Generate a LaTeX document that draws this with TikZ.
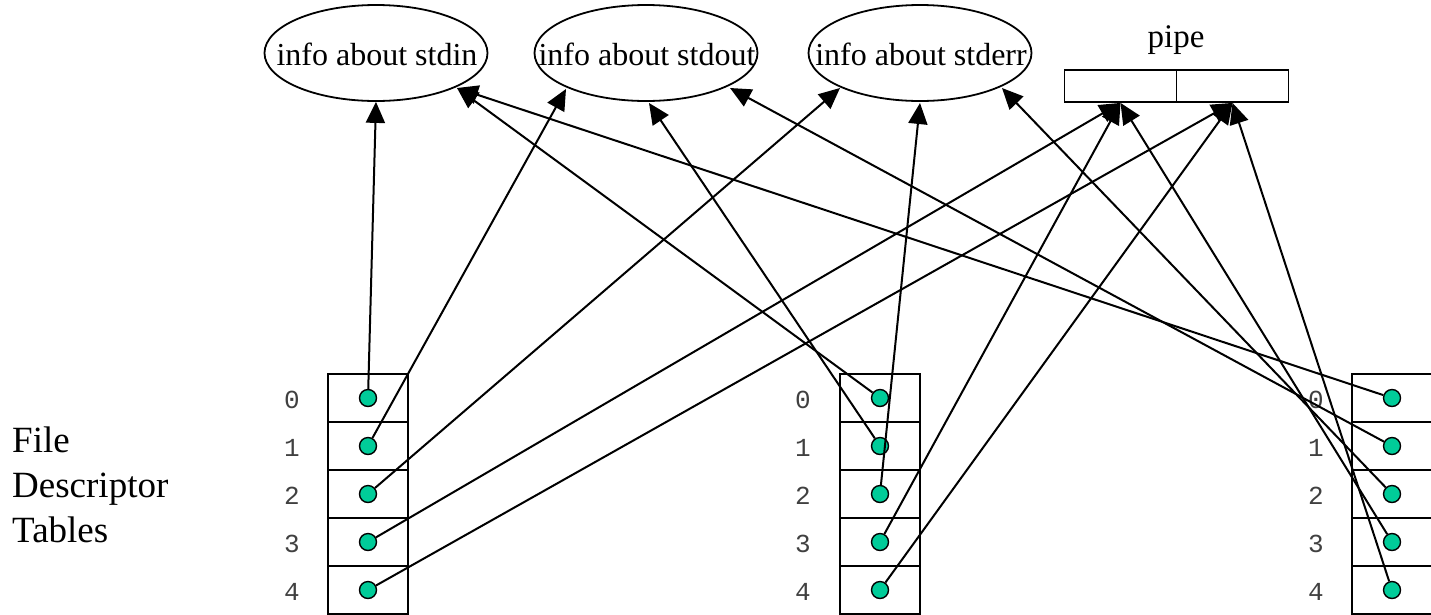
\documentclass[tikz,border=0pt]{standalone}
\usepackage{fontspec}
\setmainfont{Liberation Serif}
\setmonofont{Liberation Mono}
\usetikzlibrary{arrows.meta,shapes.geometric}
\definecolor{dotgreen}{RGB}{0,204,153}
\begin{document}
\begin{tikzpicture}[x=1pt,y=-1pt,
  info/.style={ellipse,draw,line width=1.8pt,minimum width=223pt,minimum height=96pt,inner sep=0pt},
  infotext/.style={anchor=base,inner sep=0pt,font=\fontsize{32}{38}\selectfont},
  cell/.style={draw,line width=1.8pt,minimum width=80pt,minimum height=48pt,inner sep=0pt},
  pipecell/.style={draw,line width=1.8pt,minimum width=112pt,minimum height=32pt,inner sep=0pt},
  fd/.style={circle,draw,line width=1.4pt,fill=dotgreen,minimum size=17pt,inner sep=0pt},
  idx/.style={inner sep=0pt,font=\ttfamily\fontsize{26}{30}\selectfont,text=black!75},
  side/.style={anchor=base west,inner sep=0pt,font=\fontsize{37}{45}\selectfont},
  link/.style={line width=2pt,-{Triangle[length=21pt,width=19pt]}}]
\useasboundingbox (0,0) rectangle (1431,614);
% info ellipses
\node[info] (stdin) at (376,53) {};
\node[infotext] (stdinT) at (377,65) {info about stdin};
\node[info] (stdout) at (646,53) {};
\node[infotext] (stdoutT) at (647,65) {info about stdout};
\node[info] (stderr) at (920,53) {};
\node[infotext] (stderrT) at (921,65) {info about stderr};
% pipe
\node[pipecell] (pipeL) at (1120.5,86) {};
\node[pipecell] (pipeR) at (1232.5,86) {};
\node[anchor=base,inner sep=0pt,font=\fontsize{33}{40}\selectfont] (pipeT) at (1176,47) {pipe};
% side label
\node[side] (fdt1) at (12,452) {File};
\node[side] (fdt2) at (12,497) {Descriptor};
\node[side] (fdt3) at (12,542) {Tables};
% arrow targets on the ellipses
\coordinate (inR) at (457,88);
\coordinate (outL) at (566,89);
\coordinate (outB) at (649,103);
\coordinate (outR) at (730,88);
\coordinate (errL) at (840,88);
\coordinate (errB) at (920,103);
\coordinate (errR) at (1002,88);
% tables
\foreach \t/\x/\lx in {1/368/292, 2/880/803, 3/1392/1316} {
  \foreach \r in {0,...,4} {
    \node[cell] (t\t-c\r) at (\x,{398+48*\r}) {};
    \node[idx] (t\t-l\r) at (\lx,{400+48*\r}) {\r};
    \node[fd] (t\t-d\r) at (\x,{398+48*\r}) {};
  }
}
% connectors
\draw[link] (t1-d0) -- (stdin.south);
\draw[link] (t1-d1) -- (outL);
\draw[link] (t1-d2) -- (errL);
\draw[link] (t1-d3) -- (pipeL.south);
\draw[link] (t1-d4) -- (pipeR.south);
\draw[link] (t2-d0) -- (inR);
\draw[link] (t2-d1) -- (outB);
\draw[link] (t2-d2) -- (errB);
\draw[link] (t2-d3) -- (pipeL.south);
\draw[link] (t2-d4) -- (pipeR.south);
\draw[link] (t3-d0) -- (inR);
\draw[link] (t3-d1) -- (outR);
\draw[link] (t3-d2) -- (errR);
\draw[link] (t3-d3) -- (pipeL.south);
\draw[link] (t3-d4) -- (pipeR.south);
\end{tikzpicture}
\end{document}
